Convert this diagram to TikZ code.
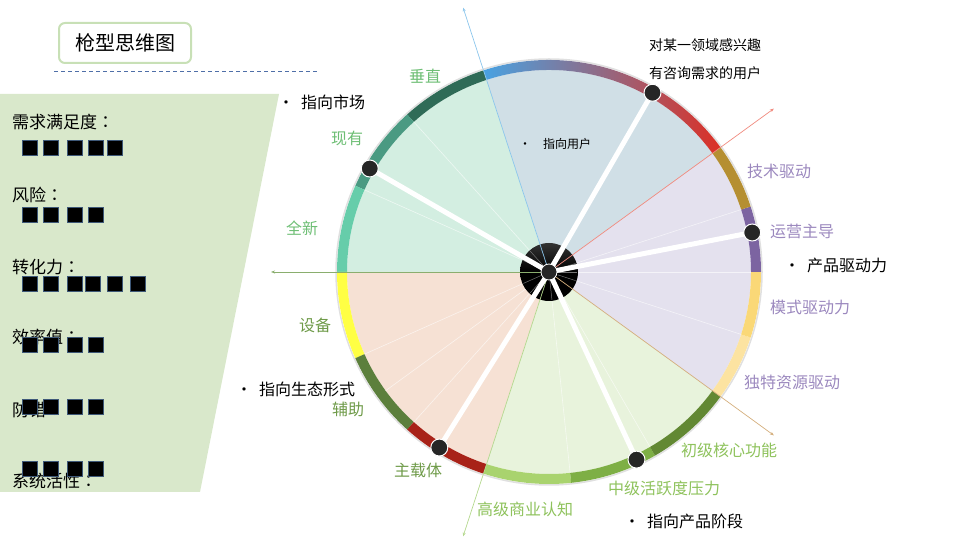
\documentclass[tikz,border=0pt]{standalone}
\usepackage{fontspec}
\setmainfont{Noto Sans CJK SC}
\newfontfamily\cjktc{Noto Sans CJK TC}
\newcommand{\fcolon}{{\cjktc ：}}
\usetikzlibrary{arrows.meta}

\definecolor{panelgreen}{HTML}{D9E8CB}
\definecolor{titleline}{HTML}{C8E0B6}
\definecolor{dashblue}{HTML}{4F6FA8}
\definecolor{tofuline}{HTML}{3E5878}
\definecolor{secblue}{HTML}{D0DFE6}
\definecolor{secmint}{HTML}{D3EEE1}
\definecolor{secpeach}{HTML}{F6E1D4}
\definecolor{seclime}{HTML}{E8F3DC}
\definecolor{seclav}{HTML}{E4E1EE}
\definecolor{ringA}{HTML}{2F6B57}
\definecolor{ringB}{HTML}{4A9A82}
\definecolor{ringC}{HTML}{66CDAA}
\definecolor{ringD}{HTML}{FFFF44}
\definecolor{ringE}{HTML}{5C7F3C}
\definecolor{ringF}{HTML}{A82218}
\definecolor{ringG}{HTML}{A9D36E}
\definecolor{ringH}{HTML}{7EAF45}
\definecolor{ringI}{HTML}{628833}
\definecolor{ringJ}{HTML}{FCE3A1}
\definecolor{ringK}{HTML}{FAD877}
\definecolor{ringL}{HTML}{7C64A1}
\definecolor{ringM}{HTML}{B58F32}
\definecolor{ringblue}{HTML}{48A2E2}
\definecolor{ringmauve}{HTML}{735E86}
\definecolor{ringred}{HTML}{DC3025}
\definecolor{rayblue}{HTML}{8CC6EC}
\definecolor{rayred}{HTML}{F08A7E}
\definecolor{raytan}{HTML}{D4AE7C}
\definecolor{raygreen}{HTML}{B4D88E}
\definecolor{rayolive}{HTML}{8AAE6E}
\definecolor{dotgray}{HTML}{262626}
\definecolor{lblgreen}{HTML}{6DBE74}
\definecolor{lblolive}{HTML}{6E9A48}
\definecolor{lbllime}{HTML}{8EC25C}
\definecolor{lblpurple}{HTML}{9B88BE}

\begin{document}
\begin{tikzpicture}[x=1pt,y=1pt,
  lbl/.style={font=\fontsize{16}{18}\selectfont},
  side/.style={anchor=west,inner sep=0pt,font=\fontsize{17}{19}\selectfont},
  tofu/.style={fill=black,draw=tofuline,line width=0.8pt},
  ray/.style={line width=0.7pt,-{Stealth[length=4pt,width=3pt]}},
  spoke/.style={white,line width=5pt},
  dot/.style={circle,fill=dotgray,draw=white,line width=1pt,minimum size=17pt,inner sep=0pt}]
\useasboundingbox (0,0) rectangle (960,540);

% left panel
\fill[panelgreen] (0,446) -- (279,446) -- (200,48) -- (0,48) -- cycle;
\node[draw=titleline,line width=2pt,rounded corners=6pt,minimum width=132pt,minimum height=40pt,
  font=\fontsize{20}{22}\selectfont] (title) at (125,497) {枪型思维图};
\draw[dashblue,line width=0.8pt,dash pattern=on 4pt off 3pt] (54,469) -- (317,469);

\node[side] (need) at (12,418) {需求满足度\fcolon};
\node[side] (risk) at (12,345) {风险\fcolon};
\node[side] (conv) at (12,273) {转化力\fcolon};
\node[side] (effi) at (12,203) {效率值\fcolon};
\node[side] (fool) at (12,130) {防错\fcolon};
\node[side] (live) at (12,59) {系统活性\fcolon};
\foreach \x in {22,43,67,88,107} \draw[tofu] (\x,384.5) rectangle ++(15,15);
\foreach \x in {22,43,67,88} \draw[tofu] (\x,317.5) rectangle ++(15,15);
\foreach \x in {22,43,67,85,107,130} \draw[tofu] (\x,248.5) rectangle ++(15,15);
\foreach \x in {22,43,67,88} \draw[tofu] (\x,187.5) rectangle ++(15,15);
\foreach \x in {22,43,67,88} \draw[tofu] (\x,125.5) rectangle ++(15,15);
\foreach \x in {22,43,67,88} \draw[tofu] (\x,63.5) rectangle ++(15,15);

% wheel
\begin{scope}[shift={(549,268)}]
\fill[secblue] (0,0) -- (36:202) arc[start angle=36,end angle=108,radius=202] -- cycle;
\fill[secmint] (0,0) -- (108:202) arc[start angle=108,end angle=180,radius=202] -- cycle;
\fill[secpeach] (0,0) -- (180:202) arc[start angle=180,end angle=252,radius=202] -- cycle;
\fill[seclime] (0,0) -- (252:202) arc[start angle=252,end angle=324,radius=202] -- cycle;
\fill[seclav] (0,0) -- (-36:202) arc[start angle=-36,end angle=36,radius=202] -- cycle;
\draw[black!12,line width=1.5pt] (0,0) circle (213);
\foreach \a/\b/\c in {108/132/ringA,132/156/ringB,156/180/ringC,180/204/ringD,204/228/ringE,
  228/252/ringF,252/276/ringG,276/300/ringH,300/324/ringI,-36/-18/ringJ,-18/0/ringK,0/18/ringL,18/36/ringM}
  \fill[\c] (\a:212) arc[start angle=\a,end angle=\b,radius=212] -- (\b:202)
    arc[start angle=\b,end angle=\a,radius=202] -- cycle;
\shade[left color=ringblue,middle color=ringmauve,right color=ringred]
  (36:212) arc[start angle=36,end angle=108,radius=212] -- (108:202)
  arc[start angle=108,end angle=36,radius=202] -- cycle;
\foreach \a in {132,156,204,216,228,276,300,342,0,18}
  \draw[white,opacity=0.6,line width=0.6pt] (0,0) -- (\a:202);

\node[circle,minimum size=58pt,inner sep=0pt,top color=black!80,bottom color=black,middle color=black] (hub) at (0,0) {};
\foreach \a in {132,156,204,228,276,300,342,0,18}
  \draw[black!55,line width=0.5pt] (\a:9) -- (\a:28);

\coordinate (rayT) at (108:278);
\coordinate (rayR) at (36:278);
\coordinate (rayD) at (-36:278);
\coordinate (rayB) at (252:278);
\coordinate (rayL) at (180:278);
\coordinate (p1) at (150:207);
\coordinate (p2) at (60:207);
\coordinate (p3) at (11:207);
\coordinate (p4) at (295:207);
\coordinate (p5) at (238:207);
\end{scope}

\draw[ray,rayblue] (hub.center) -- (rayT);
\draw[ray,rayred] (hub.center) -- (rayR);
\draw[ray,raytan] (hub.center) -- (rayD);
\draw[ray,raygreen] (hub.center) -- (rayB);
\draw[ray,rayolive] (hub.center) -- (rayL);

\foreach \p in {p1,p2,p3,p4,p5} \draw[spoke] (hub.center) -- (\p);
\node[dot,minimum size=16pt,line width=0.8pt] (ctr) at (hub.center) {};
\node[dot] (d1) at (p1) {};
\node[dot] (d2) at (p2) {};
\node[dot] (d3) at (p3) {};
\node[dot] (d4) at (p4) {};
\node[dot] (d5) at (p5) {};

% ring labels
\node[lbl,text=lblgreen] (vert) at (425,464) {垂直};
\node[lbl,text=lblgreen] (exist) at (347,402) {现有};
\node[lbl,text=lblgreen] (fresh) at (302,312) {全新};
\node[lbl,text=lblolive] (equip) at (315,215) {设备};
\node[lbl,text=lblolive] (aux) at (348,131) {辅助};
\node[lbl,text=lblolive] (main) at (418,70) {主载体};
\node[lbl,text=lbllime] (high) at (525,31) {高级商业认知};
\node[lbl,text=lbllime] (mid) at (664,52) {中级活跃度压力};
\node[lbl,text=lbllime] (low) at (729,90) {初级核心功能};
\node[lbl,text=lblpurple] (uniq) at (792,158) {独特资源驱动};
\node[lbl,text=lblpurple] (mode) at (810,233) {模式驱动力};
\node[lbl,text=lblpurple] (oper) at (802,309) {运营主导};
\node[lbl,text=lblpurple] (tech) at (779,369) {技术驱动};

% notes
\node[anchor=west,inner sep=0pt,font=\fontsize{14}{16}\selectfont] (fan1) at (649,495) {对某一领域感兴趣};
\node[anchor=west,inner sep=0pt,font=\fontsize{14}{16}\selectfont] (fan2) at (649,467) {有咨询需求的用户};
\node[lbl,anchor=west,inner sep=0pt] (market) at (278,438) {•\hspace{7pt}指向市场};
\node[anchor=west,inner sep=0pt,font=\fontsize{12}{14}\selectfont] (user) at (519,396) {•\hspace{12pt}指向用户};
\node[lbl,anchor=west,inner sep=0pt] (drive) at (784,275) {•\hspace{7pt}产品驱动力};
\node[lbl,anchor=west,inner sep=0pt] (eco) at (236,151) {•\hspace{7pt}指向生态形式};
\node[lbl,anchor=west,inner sep=0pt] (stage) at (624,19) {•\hspace{7pt}指向产品阶段};
\end{tikzpicture}
\end{document}
